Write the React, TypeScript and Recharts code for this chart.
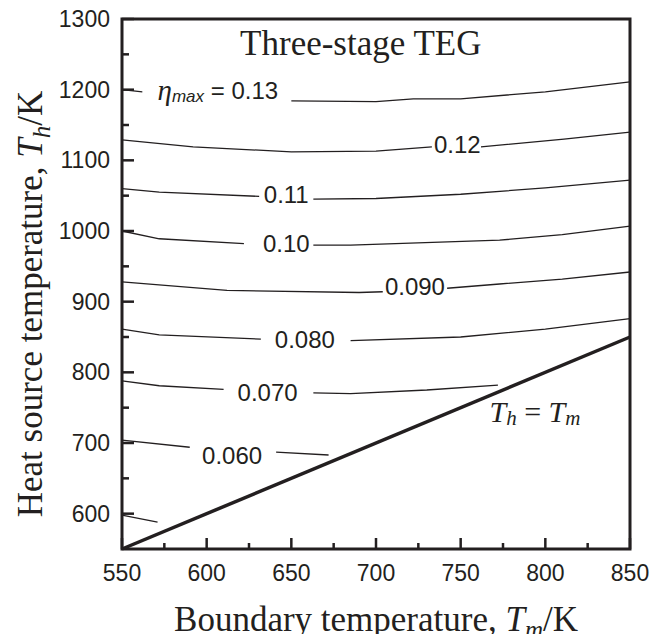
import React from "react";
import {
  ComposedChart,
  Line,
  Scatter,
  XAxis,
  YAxis,
  ReferenceArea,
  Label,
} from "recharts";

const INK = "#231f20";
const SANS = '"Liberation Sans", Arial, Helvetica, sans-serif';
const SERIF = '"Liberation Serif", "Times New Roman", Times, serif';

type Pt = [number, number];

// contour lines of eta_max, as (Tm, Th) segments; gaps are where the labels sit
const eta013: Pt[][] = [
  [[550, 1200], [562, 1197]],
  [[650, 1184], [700, 1183], [722, 1187], [750, 1187], [800, 1197], [850, 1211]],
];
const eta012: Pt[][] = [
  [[550, 1129], [592, 1119], [650, 1112], [700, 1113], [733, 1119]],
  [[762, 1119], [811, 1130], [850, 1140]],
];
const eta011: Pt[][] = [
  [[550, 1060], [572, 1055], [631, 1049]],
  [[663, 1045], [700, 1046], [750, 1052], [800, 1061], [850, 1072]],
];
const eta010: Pt[][] = [
  [[550, 1000], [572, 989], [622, 982]],
  [[663, 980], [685, 980], [773, 987], [810, 995], [850, 1007]],
];
const eta009: Pt[][] = [
  [[550, 928], [612, 916], [690, 913], [704, 914]],
  [[742, 919], [773, 925], [810, 932], [850, 942]],
];
const eta008: Pt[][] = [
  [[550, 861], [572, 853], [632, 847]],
  [[685, 845], [750, 850], [800, 861], [850, 876]],
];
const eta007: Pt[][] = [
  [[550, 788], [572, 781], [610, 776]],
  [[663, 771], [685, 770], [730, 775], [772, 782]],
];
const eta006: Pt[][] = [
  [[550, 704], [590, 694]],
  [[641, 687], [672, 683]],
];
const eta005: Pt[][] = [[[550, 598], [571, 588]]];

const contours = [eta013, eta012, eta011, eta010, eta009, eta008, eta007, eta006, eta005];

// Th = Tm boundary
const diagonal: Pt[] = [[550, 550], [850, 850]];

const xTicks = [550, 575, 600, 625, 650, 675, 700, 725, 750, 775, 800, 825, 850];
const yTicks = [600, 650, 700, 750, 800, 850, 900, 950, 1000, 1050, 1100, 1150, 1200, 1250, 1300];

const contourLabels = [
  { x: 748, y: 1122, text: "0.12" },
  { x: 647, y: 1051, text: "0.11" },
  { x: 647, y: 983, text: "0.10" },
  { x: 723, y: 921, text: "0.090" },
  { x: 658, y: 846, text: "0.080" },
  { x: 636, y: 771, text: "0.070" },
  { x: 615, y: 683, text: "0.060" },
];
const etaLabel = [{ x: 571, y: 1199 }];
const titleLabel = [{ x: 691, y: 1265 }];
const diagLabel = [{ x: 767, y: 745 }];

const toRows = (seg: Pt[]) => seg.map(([x, y]) => ({ x, y }));

const XTick = (p: any) => {
  const { x, y, payload } = p;
  const v = payload.value;
  const major = v % 50 === 0;
  return (
    <g>
      <line x1={x} x2={x} y1={y} y2={y - (major ? 11 : 6)} stroke={INK} strokeWidth={2.5} />
      {major && (
        <text x={x} y={y + 24} textAnchor="middle" dominantBaseline="central"
          fontFamily={SANS} fontSize={23} fill={INK}>
          {v}
        </text>
      )}
    </g>
  );
};

const YTick = (p: any) => {
  const { x, y, payload } = p;
  const v = payload.value;
  const major = v % 100 === 0;
  return (
    <g>
      <line x1={x} x2={x + (major ? 12 : 7)} y1={y} y2={y} stroke={INK} strokeWidth={2.5} />
      {major && (
        <text x={x - 12} y={y} textAnchor="end" dominantBaseline="central"
          fontFamily={SANS} fontSize={23} fill={INK}>
          {v}
        </text>
      )}
    </g>
  );
};

const XTitle = (p: any) => {
  const vb = p.viewBox || { x: 114, y: 541, width: 508, height: 85 };
  return (
    <text x={vb.x + vb.width / 2} y={vb.y + 82} textAnchor="middle"
      fontFamily={SERIF} fontSize={35} fill={INK}>
      Boundary temperature,{" "}
      <tspan fontStyle="italic">T</tspan>
      <tspan fontStyle="italic" fontSize={25} dy={7}>m</tspan>
      <tspan dy={-7}>/K</tspan>
    </text>
  );
};

const YTitle = (p: any) => {
  const vb = p.viewBox || { x: 0, y: 11, width: 114, height: 530 };
  const cx = vb.x + 34;
  const cy = vb.y + vb.height / 2 + 20;
  return (
    <text x={cx} y={cy} textAnchor="middle" transform={`rotate(-90, ${cx}, ${cy})`}
      fontFamily={SERIF} fontSize={35} fill={INK}>
      Heat source temperature,{" "}
      <tspan fontStyle="italic">T</tspan>
      <tspan fontStyle="italic" fontSize={25} dy={8}>h</tspan>
      <tspan dy={-8}>/K</tspan>
    </text>
  );
};

const NumLabel = (p: any) => (
  <text x={p.cx} y={p.cy} textAnchor="middle" dominantBaseline="central"
    fontFamily={SANS} fontSize={24} fill={INK}>
    {p.payload.text}
  </text>
);

const EtaLabel = (p: any) => (
  <text x={p.cx} y={p.cy} dominantBaseline="central" fontFamily={SANS} fontSize={24} fill={INK}>
    <tspan fontFamily={SERIF} fontStyle="italic" fontSize={29}>η</tspan>
    <tspan fontStyle="italic" fontSize={17} dy={6}>max</tspan>
    <tspan dy={-6}> = 0.13</tspan>
  </text>
);

const TitleLabel = (p: any) => (
  <text x={p.cx} y={p.cy} textAnchor="middle" dominantBaseline="central"
    fontFamily={SERIF} fontSize={35} fill={INK}>
    Three-stage TEG
  </text>
);

const DiagLabel = (p: any) => (
  <text x={p.cx} y={p.cy} dominantBaseline="central" fontFamily={SERIF} fontSize={30} fill={INK}>
    <tspan fontStyle="italic">T</tspan>
    <tspan fontStyle="italic" fontSize={21} dy={7}>h</tspan>
    <tspan dy={-7}> = </tspan>
    <tspan fontStyle="italic">T</tspan>
    <tspan fontStyle="italic" fontSize={21} dy={7}>m</tspan>
  </text>
);

export default function App() {
  return (
    <div style={{ width: 650, height: 626 }}>
      <style>{".recharts-surface{overflow:visible}"}</style>
      <ComposedChart width={650} height={626} margin={{ top: 11, right: 28, left: 0, bottom: 0 }}>
        <XAxis
          dataKey="x"
          type="number"
          domain={[550, 850]}
          ticks={xTicks}
          interval={0}
          height={85}
          axisLine={false}
          tickLine={false}
          tickSize={0}
          tickMargin={0}
          tick={<XTick />}
        >
          <Label content={<XTitle />} />
        </XAxis>
        <YAxis
          type="number"
          domain={[550, 1300]}
          ticks={yTicks}
          interval={0}
          width={114}
          axisLine={false}
          tickLine={false}
          tickSize={0}
          tickMargin={0}
          tick={<YTick />}
        >
          <Label content={<YTitle />} />
        </YAxis>
        <ReferenceArea x1={550} x2={850} y1={550} y2={1300} fill="none" stroke={INK} strokeWidth={3} ifOverflow="visible" />
        {contours.flatMap((segs, i) =>
          segs.map((seg, j) => (
            <Line
              key={`c${i}-${j}`}
              data={toRows(seg)}
              dataKey="y"
              type="linear"
              stroke={INK}
              strokeWidth={1.3}
              dot={false}
              activeDot={false}
              isAnimationActive={false}
            />
          ))
        )}
        <Line
          data={toRows(diagonal)}
          dataKey="y"
          type="linear"
          stroke={INK}
          strokeWidth={3.5}
          dot={false}
          activeDot={false}
          isAnimationActive={false}
        />
        <Scatter data={contourLabels} dataKey="y" shape={NumLabel} isAnimationActive={false} />
        <Scatter data={etaLabel} dataKey="y" shape={EtaLabel} isAnimationActive={false} />
        <Scatter data={titleLabel} dataKey="y" shape={TitleLabel} isAnimationActive={false} />
        <Scatter data={diagLabel} dataKey="y" shape={DiagLabel} isAnimationActive={false} />
      </ComposedChart>
    </div>
  );
}
